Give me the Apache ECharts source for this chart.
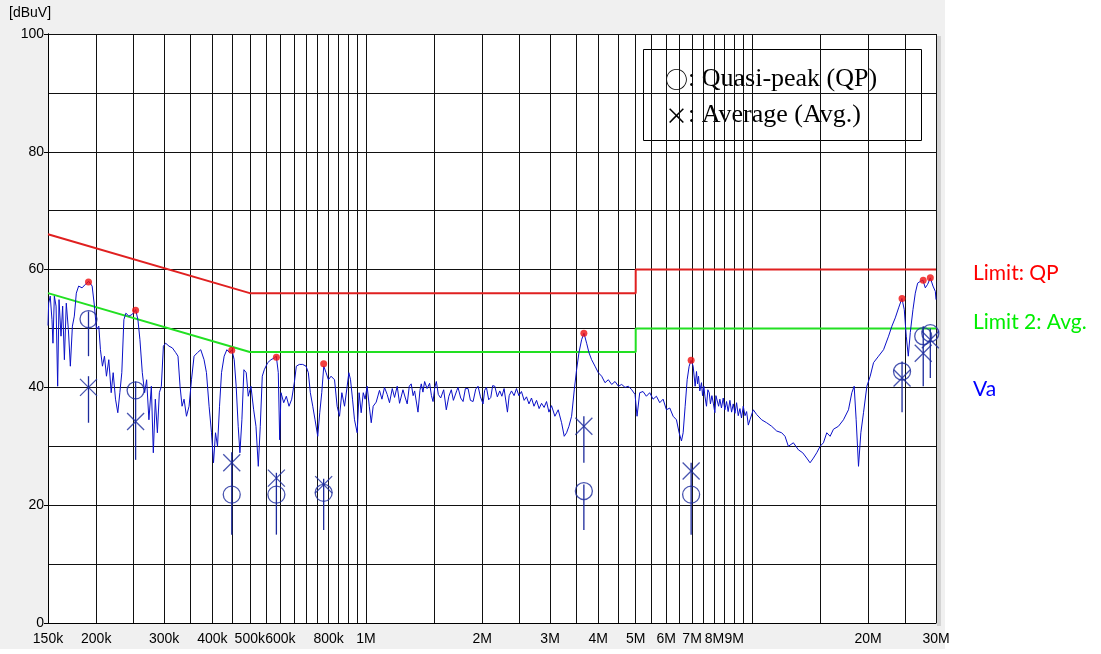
<!DOCTYPE html>
<html>
<head>
<meta charset="utf-8">
<script src="https://cdn.jsdelivr.net/npm/echarts@6/dist/echarts.min.js"></script>
<style>
  html, body { margin: 0; padding: 0; background: #fff; }
  #chart { width: 1101px; height: 654px; }
</style>
</head>
<body>
<div id="chart"></div>
<script>
// frequencies in kHz, levels in dBuV
const gridFreqs = [150, 200, 250, 300, 350, 400, 450, 500, 550, 600, 650, 700, 750, 800, 850, 900, 950, 1000,
  1500, 2000, 2500, 3000, 3500, 4000, 4500, 5000, 5500, 6000, 6500, 7000, 7500, 8000, 8500, 9000, 9500, 10000,
  15000, 20000, 25000, 30000]
const labelFreqs = [150, 200, 300, 400, 500, 600, 800, 1000, 2000, 3000, 4000, 5000, 6000, 7000, 8000, 9000, 20000, 30000]

const qpLimit = [[150, 66], [500, 56], [5000, 56], [5000, 60], [30000, 60]]
const avgLimit = [[150, 56], [500, 46], [5000, 46], [5000, 50], [30000, 50]]

const spectrum = [
  [150, 50.5], [150.6, 54.3], [152, 55.5], [153.6, 51.5], [154.5, 47.5], [155.8, 55.5], [157.4, 53.8], [158.9, 40.2],
  [160.2, 54.9], [162.1, 48.7], [163.7, 53.8], [165.4, 44.7], [167.3, 54.3], [169.4, 49.8], [171.4, 43.6], [173.5, 50.4],
  [175.5, 52.1], [177.6, 56], [180.1, 57.2], [183.8, 56.9], [187.5, 57.5], [191.3, 58], [195.2, 57.2], [197.9, 53.8],
  [200.3, 49.8], [203.1, 50.4], [205.1, 46.4], [207.6, 43.6], [210.1, 45.3], [212.6, 41.9], [215.6, 44.7], [218.7, 39.1],
  [221.3, 42.5], [224.4, 38], [227.5, 35.7], [230.3, 39.1], [233, 42.5], [235.9, 51.5], [238.7, 52.6], [243, 52.1],
  [248, 52.4], [253, 53.2], [256.5, 51.5], [259.6, 48.1], [263.3, 42.5], [267, 39.1], [270.2, 41.3], [273.9, 34.5],
  [277.9, 40.2], [281.2, 28.9], [284.6, 38], [288.1, 32.3], [291.5, 39.1], [295, 40.2], [298.6, 47], [302.7, 47.5],
  [308.8, 47], [315.1, 46.7], [321.4, 45.9], [325.8, 45.3], [329.8, 40.2], [333.8, 36.8], [337.8, 38], [342.7, 35.1],
  [348, 36.8], [353.1, 41.3], [358.6, 45.3], [365.9, 45.9], [373.2, 46.4], [380.6, 44.7], [386.1, 42.5], [392.2, 36.8],
  [397.9, 32.3], [402.7, 27.2], [407.5, 32.3], [412.4, 30], [417.4, 36.8], [422.4, 42.5], [429.1, 45.3], [436.1, 46.4],
  [443.2, 45.9], [449.3, 46.4], [455.6, 44.7], [461, 40.2], [466.6, 33.4], [471.4, 28.9], [477, 34.5], [482.8, 43],
  [489.5, 42.5], [495.4, 38.5], [503.4, 40.2], [511.7, 36.2], [518.8, 33.4], [526, 26.6], [532.3, 33.4], [538.7, 41.9],
  [545.2, 43], [556.4, 44.2], [567.4, 44.7], [578.7, 45], [585.7, 45.3], [592.7, 42.5], [597.7, 31.1], [602.4, 39.1],
  [612.2, 37.4], [621.8, 38.5], [631.9, 36.8], [642.1, 38], [652.2, 40.8], [660.1, 43.6], [672, 43.9], [685.7, 43.9],
  [699.4, 43.6], [709.1, 42.5], [717.6, 39.1], [728, 36.8], [738, 34.5], [750, 31.7], [759.1, 35.7], [768.2, 39.1],
  [777.5, 43.6], [788.3, 42.5], [799.2, 41.3], [812, 41.9], [829, 41.3], [842, 36.8], [854, 35.1], [866, 39.1],
  [880, 36.8], [894, 40.2], [903, 42.5], [912, 41.3], [923, 38], [934, 34.5], [949, 32.3], [960, 39.1],
  [972, 35.7], [984, 39.1], [995, 38], [1007, 40.2], [1020, 36.8], [1032, 34], [1044, 36.8], [1063, 37.5],
  [1084, 39.5], [1100, 38], [1117, 40], [1135, 38.8], [1151, 37.4], [1170, 39.8], [1186, 38.3], [1205, 40.2],
  [1222, 37.3], [1247, 39.6], [1265, 38.2], [1279, 37.2], [1295, 40.2], [1310, 40.6], [1325, 38.6], [1337, 39.4],
  [1364, 35.8], [1380, 39.5], [1391, 40.6], [1405, 39.2], [1419, 41], [1440, 39.8], [1462, 40.7], [1478, 38.6],
  [1492, 37.6], [1508, 40], [1522, 41], [1540, 38.8], [1562, 38.2], [1590, 39.6], [1615, 36.2], [1640, 38.5],
  [1664, 39.6], [1685, 37.8], [1705, 37.6], [1720, 39.5], [1732, 40], [1760, 38.2], [1785, 37.6], [1810, 39.8],
  [1839, 39.8], [1865, 37.8], [1895, 37.6], [1925, 39.7], [1952, 40.2], [1980, 38.4], [2011, 37.2], [2030, 39.5],
  [2052, 40], [2080, 37.9], [2106, 38.3], [2130, 40.3], [2157, 40.2], [2190, 38.4], [2222, 39.4], [2250, 38.5],
  [2280, 39.8], [2300, 39.6], [2326, 35.8], [2350, 38.6], [2383, 39.4], [2420, 38.6], [2455, 39.8], [2490, 38.6],
  [2529, 39.3], [2570, 37.8], [2606, 38.4], [2645, 37.2], [2685, 38.2], [2725, 36.8], [2767, 37.8], [2810, 36.4],
  [2851, 37.3], [2895, 36.6], [2937, 37.6], [2980, 35.8], [3026, 36.9], [3087, 35.1], [3149, 36.2], [3213, 34],
  [3264, 31.7], [3310, 32.3], [3357, 33.4], [3411, 35.1], [3466, 39.6], [3514, 43], [3564, 45.9], [3621, 48.1],
  [3672, 49.2], [3731, 47.5], [3783, 45.9], [3844, 44.7], [3922, 43.6], [4000, 42.5], [4081, 41.9], [4163, 40.8],
  [4247, 41.3], [4332, 40.5], [4420, 41], [4509, 40.2], [4599, 40.5], [4692, 40], [4787, 40.2], [4883, 39.6],
  [4981, 38.8], [5040, 35.1], [5121, 39.1], [5224, 39.3], [5329, 38.5], [5437, 39.1], [5546, 38], [5658, 38.5],
  [5772, 37.4], [5888, 38], [6006, 36.2], [6127, 36.5], [6251, 35.1], [6376, 34.5], [6479, 32.3], [6570, 30.9],
  [6636, 32.3], [6716, 36.8], [6797, 41.3], [6878, 43.6], [6961, 44.6], [7045, 43.6], [7129, 40.2], [7186, 42.7],
  [7230, 40.6], [7273, 41.9], [7330, 39.4], [7404, 40.8], [7450, 38.6], [7509, 40.2], [7560, 38.4], [7629, 36.8],
  [7690, 39.6], [7752, 39.1], [7810, 37.2], [7877, 38.6], [7950, 37.2], [8019, 35.7], [8070, 38.6], [8132, 38.5],
  [8200, 36.8], [8262, 38], [8340, 36.5], [8429, 38.2], [8510, 36.2], [8598, 37.6], [8680, 35.9], [8771, 37.8],
  [8860, 35.8], [8948, 37.2], [9040, 35.6], [9128, 37.4], [9220, 35.2], [9312, 36.4], [9400, 34.8], [9499, 36.8],
  [9600, 35.2], [9691, 35.9], [9790, 33.6], [9886, 34.5], [10084, 36.2], [10288, 35.4], [10600, 34.5], [10922, 34],
  [11252, 33.4], [11594, 32.6], [11946, 32.3], [12187, 31.7], [12432, 30], [12810, 30.6], [13199, 29.4], [13545, 28.9],
  [13872, 28], [14151, 27.2], [14437, 28], [14727, 28.9], [15023, 30], [15326, 30.6], [15634, 32.3], [15949, 31.7],
  [16271, 32.9], [16763, 33.4], [17272, 34.5], [17796, 36.2], [18156, 39.1], [18410, 40.2], [18632, 34.5], [18893, 26.6],
  [19159, 32.3], [19466, 35.7], [19860, 40.2], [20259, 41.9], [20666, 44.2], [21293, 45.3], [21939, 46.4], [22605, 48.7],
  [23060, 50.4], [23526, 51.8], [23999, 53.5], [24481, 55.1], [24826, 53.2], [25123, 48.7], [25427, 45.3], [25731, 49.3],
  [26146, 53.2], [26512, 56], [26885, 57.7], [27316, 58], [27757, 58.2], [28146, 56.9], [28542, 57.5], [29000, 58.6],
  [29467, 57.2], [29880, 56.3], [30000, 54.9]
]

const peaks = [[191, 57.9], [253, 53.1], [449, 46.3], [586, 45.1], [777, 44], [3670, 49.2], [6960, 44.6],
  [24500, 55.1], [27800, 58.2], [29000, 58.6]]
const qpValues = [[191, 51.6], [253, 39.5], [449, 21.8], [586, 21.8], [777, 22.1], [3670, 22.4], [6960, 21.8],
  [24500, 42.7], [27800, 48.7], [29000, 49.2]]
const avgValues = [[191, 40], [253, 34.2], [449, 27.2], [586, 24.6], [777, 23.5], [3670, 33.4], [6960, 25.8],
  [24500, 41.6], [27800, 45.8], [29000, 48.1]]
// vertical marker stems: [freq, top, bottom]
const stems = [[191, 52.9, 45.3], [191, 41.9, 34], [253, 41, 27.7], [449, 29, 15], [586, 25.5, 15], [777, 24.5, 15.8],
  [3670, 35.1, 27.2], [3670, 23.5, 15.8], [6960, 27.2, 15], [24500, 44.4, 35.8], [27800, 50.4, 40.2], [29000, 50, 41.6]]

const markColor = '#1c2a9c'
const tickFont = "'Liberation Sans', Arial, sans-serif"

const chart = echarts.init(document.getElementById('chart'))
chart.setOption({
  animation: false,
  backgroundColor: '#fff',
  grid: { left: 48, right: 165, top: 34, bottom: 31, backgroundColor: '#fff', show: true, borderWidth: 0 },
  graphic: [
    { type: 'rect', z: -10, silent: true, shape: { x: 0, y: 0, width: 945, height: 649 }, style: { fill: '#f0f0f0' } },
    { type: 'rect', z: -9, silent: true, shape: { x: 937, y: 36, width: 4, height: 590 }, style: { fill: '#d4d4d4' } },
    { type: 'text', left: 9, top: 6, style: { text: '[dBuV]', font: '14px ' + tickFont, fill: '#000' } },
    {
      type: 'group', z: 100,
      children: [
        { type: 'rect', shape: { x: 643.5, y: 49.5, width: 278, height: 91 }, style: { fill: '#fff', stroke: '#000', lineWidth: 1 } },
        {
          type: 'text', x: 665, y: 79,
          style: {
            text: '{s|○}{t|: Quasi-peak (QP)}', verticalAlign: 'middle',
            rich: {
              s: { font: "23px 'Noto Sans CJK JP'", fill: '#000' },
              t: { font: "26px 'Liberation Serif', serif", fill: '#000' }
            }
          }
        },
        {
          type: 'text', x: 665, y: 115,
          style: {
            text: '{s|×}{t|: Average (Avg.)}', verticalAlign: 'middle',
            rich: {
              s: { font: "23px 'Noto Sans CJK JP'", fill: '#000' },
              t: { font: "26px 'Liberation Serif', serif", fill: '#000' }
            }
          }
        }
      ]
    },
    { type: 'text', x: 973, y: 273, style: { text: 'Limit: QP', font: "21px Lato, sans-serif", fill: '#ff0000', verticalAlign: 'middle' } },
    { type: 'text', x: 973, y: 322, style: { text: 'Limit 2: Avg.', font: "21px Lato, sans-serif", fill: '#00ee00', verticalAlign: 'middle' } },
    { type: 'text', x: 973, y: 389, style: { text: 'Va', font: "21px Lato, sans-serif", fill: '#0000ff', verticalAlign: 'middle' } }
  ],
  xAxis: {
    type: 'log', logBase: 10, min: 150, max: 30000,
    axisLine: { show: true, onZero: false, lineStyle: { color: '#000', width: 1 } },
    axisTick: { show: false, customValues: gridFreqs },
    splitLine: { show: true, lineStyle: { color: '#111', width: 1 } },
    axisLabel: {
      customValues: labelFreqs, margin: 9, color: '#000',
      fontFamily: tickFont, fontSize: 14,
      formatter: v => (v >= 1000 ? Math.round(v / 1000) + 'M' : Math.round(v) + 'k')
    }
  },
  yAxis: [
    {
      type: 'value', min: 0, max: 100, interval: 10,
      axisLine: { show: true, lineStyle: { color: '#000' } },
      axisTick: { show: false }, axisLabel: { show: false },
      splitLine: { show: true, lineStyle: { color: '#111', width: 1 } }
    },
    {
      type: 'value', min: 0, max: 100, interval: 20, position: 'left',
      axisLine: { show: true, lineStyle: { color: '#000' } },
      axisTick: { show: true, length: 4, lineStyle: { color: '#000' } },
      splitLine: { show: false },
      axisLabel: { margin: 4, color: '#000', fontFamily: tickFont, fontSize: 14 }
    }
  ],
  series: [
    { type: 'line', data: qpLimit, showSymbol: false, lineStyle: { color: '#e02020', width: 2 }, z: 3 },
    { type: 'line', data: avgLimit, showSymbol: false, lineStyle: { color: '#22e022', width: 2 }, z: 3 },
    { type: 'line', data: spectrum, showSymbol: false, lineStyle: { color: '#0a10c8', width: 1 }, z: 4 },
    {
      type: 'custom', data: stems, z: 5,
      encode: { x: 0, y: [1, 2] },
      renderItem: (params, api) => {
        const p1 = api.coord([api.value(0), api.value(1)])
        const p2 = api.coord([api.value(0), api.value(2)])
        return {
          type: 'line',
          shape: { x1: p1[0], y1: p1[1], x2: p2[0], y2: p2[1] },
          style: { stroke: markColor, lineWidth: 1.3 }
        }
      }
    },
    {
      type: 'scatter', data: qpValues, symbol: 'circle', symbolSize: 17, z: 6,
      itemStyle: { color: 'rgba(0,0,0,0)', borderColor: markColor, borderWidth: 1.3 }
    },
    {
      type: 'scatter', data: avgValues, symbol: 'path://M0,0L10,10M10,0L0,10', symbolSize: 17, z: 6,
      itemStyle: { color: 'none', borderColor: markColor, borderWidth: 1.3 }
    },
    {
      type: 'scatter', data: peaks, symbol: 'circle', symbolSize: 7, z: 7,
      itemStyle: { color: '#f01010' }
    }
  ]
})
</script>
</body>
</html>
